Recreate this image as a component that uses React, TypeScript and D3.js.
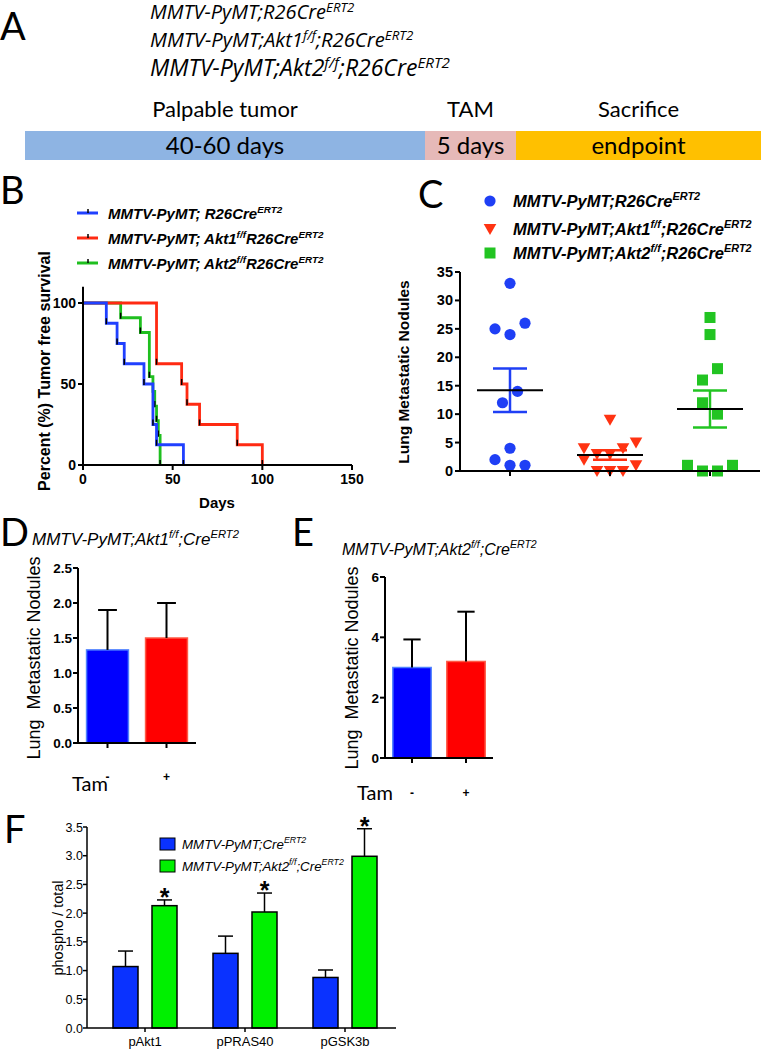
import React from 'react';
import * as d3 from 'd3';

const W = 761;
const H = 1050;
const ARIAL = "'Liberation Sans', Arial, sans-serif";
const CAL = "Lato, 'Open Sans', sans-serif";
const OPEN = "'Open Sans', Lato, sans-serif";

// ---------- Panel A ----------
const genotypeLines = [
  'MMTV-PyMT;R26Cre^{ERT2}',
  'MMTV-PyMT;Akt1^{f/f};R26Cre^{ERT2}',
  'MMTV-PyMT;Akt2^{f/f};R26Cre^{ERT2}',
];
const timelineStages = ['Palpable tumor', 'TAM', 'Sacrifice'];
const timelineDurations = ['40-60 days', '5 days', 'endpoint'];
const timelineWeights = [400, 91, 245];
const timelineColors = ['#8eb4e3', '#e6b9b8', '#ffc000'];

// ---------- Panel B ----------
const survivalLabels = [
  'MMTV-PyMT; R26Cre^{ERT2}',
  'MMTV-PyMT; Akt1^{f/f}R26Cre^{ERT2}',
  'MMTV-PyMT; Akt2^{f/f}R26Cre^{ERT2}',
];
const survivalR26: [number, number][] = [[0, 100], [13, 87.5], [19, 75], [23, 62.5], [34, 50], [39, 25], [41, 12.5], [56, 0]];
const survivalAkt1: [number, number][] = [[0, 100], [41, 62.5], [55, 50], [58, 37.5], [65, 25], [86, 12.5], [100, 0]];
const survivalAkt2: [number, number][] = [[0, 100], [21, 90.9], [32, 81.8], [37, 54.5], [39, 45.5], [40, 36.4], [41, 27.3], [42, 18.2], [43, 0]];
const survivalColors = ['#2040ff', '#ff2a12', '#1fbf1f'];
const survivalXTicks = [0, 50, 100, 150];
const survivalYTicks = [0, 50, 100];

// ---------- Panel C ----------
const noduleLabels = [
  'MMTV-PyMT;R26Cre^{ERT2}',
  'MMTV-PyMT;Akt1^{f/f};R26Cre^{ERT2}',
  'MMTV-PyMT;Akt2^{f/f};R26Cre^{ERT2}',
];
const nodulesR26 = [33, 25, 24, 26, 12, 14, 4, 2, 1, 1];
const nodulesAkt1 = [9, 4, 3, 3, 4, 5, 2, 0, 0, 0, 1];
const nodulesAkt2 = [27, 24, 16, 18, 12, 10, 1, 0, 0, 1];
const noduleColors = ['#1f3ff5', '#ff3312', '#22c422'];
const noduleShapes = ['circle', 'triangle', 'square'];
const noduleYTicks = [0, 5, 10, 15, 20, 25, 30, 35];

// ---------- Panel D / E ----------
const tamLabels = ['-', '+'];
const akt1Means = [1.33, 1.5];
const akt1Errors = [0.57, 0.5];
const akt1YTicks = [0, 0.5, 1.0, 1.5, 2.0, 2.5];
const akt2Means = [3.0, 3.2];
const akt2Errors = [0.93, 1.65];
const akt2YTicks = [0, 2, 4, 6];
const tamColors = ['#0000ff', '#ff0000'];
const tamStrokes = ['#4f82ff', '#ff5a46'];

// ---------- Panel F ----------
const phosphoTargets = ['pAkt1', 'pPRAS40', 'pGSK3b'];
const controlMeans = [1.07, 1.3, 0.88];
const controlErrors = [0.27, 0.3, 0.13];
const knockoutMeans = [2.13, 2.02, 2.99];
const knockoutErrors = [0.1, 0.33, 0.48];
const significance = ['*', '*', '*'];
const phosphoSeries = ['MMTV-PyMT;Cre^{ERT2}', 'MMTV-PyMT;Akt2^{f/f};Cre^{ERT2}'];
const phosphoColors = ['#0a32ff', '#00f000'];
const phosphoYTicks = [0, 0.5, 1.0, 1.5, 2.0, 2.5, 3.0, 3.5];

// ---------- helpers ----------
function parseRich(s: string) {
  const parts: { t: string; sup: boolean }[] = [];
  const re = /\^\{([^}]*)\}/g;
  let last = 0;
  let m: RegExpExecArray | null;
  while ((m = re.exec(s))) {
    if (m.index > last) parts.push({ t: s.slice(last, m.index), sup: false });
    parts.push({ t: m[1], sup: true });
    last = m.index + m[0].length;
  }
  if (last < s.length) parts.push({ t: s.slice(last), sup: false });
  return parts;
}

function Rich(props: any) {
  const { x, y, text, size, supScale = 0.66, raise = 0.42, anchor = 'start', weight = 'normal', italic = false, family = ARIAL, fill = '#000', transform } = props;
  const parts = parseRich(text);
  let shift = 0;
  return (
    <text x={x} y={y} fontSize={size} fontFamily={family} fontWeight={weight} fontStyle={italic ? 'italic' : 'normal'} textAnchor={anchor} fill={fill} transform={transform}>
      {parts.map((p, i) => {
        const target = p.sup ? -size * raise : 0;
        const dy = target - shift;
        shift = target;
        return (
          <tspan key={i} dy={dy} fontSize={p.sup ? size * supScale : size}>
            {p.t}
          </tspan>
        );
      })}
    </text>
  );
}

function PanelLetter({ x, y, t }: { x: number; y: number; t: string }) {
  return (
    <text x={x} y={y} fontSize={38} fontFamily={CAL} fill="#000">
      {t}
    </text>
  );
}

function fmt1(v: number) {
  return v.toFixed(1);
}

// ---------- Panel A ----------
function PanelA() {
  const cum = [0, ...Array.from(d3.cumsum(timelineWeights))];
  const x = d3.scaleLinear().domain([0, d3.sum(timelineWeights)]).range([25, W]);
  const sizes = [20, 20.2, 23];
  const baselines = [19, 47, 76];
  return (
    <g>
      <PanelLetter x={0} y={40} t="A" />
      {genotypeLines.map((g, i) => (
        <Rich key={g} x={150} y={baselines[i]} text={g} size={sizes[i]} raise={0.33} italic family={OPEN} />
      ))}
      {timelineStages.map((s, i) => {
        const x0 = x(cum[i]);
        const x1 = x(cum[i + 1]);
        const cx = (x0 + x1) / 2;
        return (
          <g key={s}>
            <rect x={x0} y={131} width={x1 - x0} height={29} fill={timelineColors[i]} />
            <text x={cx} y={117} textAnchor="middle" fontSize={22} fontFamily={CAL}>
              {s}
            </text>
            <text x={cx} y={154} textAnchor="middle" fontSize={24} fontFamily={CAL}>
              {timelineDurations[i]}
            </text>
          </g>
        );
      })}
    </g>
  );
}

// ---------- Panel B ----------
function PanelB() {
  const x = d3.scaleLinear().domain([0, 150]).range([83, 352]);
  const y = d3.scaleLinear().domain([0, 100]).range([465, 303]);
  const line = d3
    .line<[number, number]>()
    .x((d) => x(d[0]))
    .y((d) => y(d[1]))
    .curve(d3.curveStepAfter);
  const series = [survivalR26, survivalAkt1, survivalAkt2];
  const drawOrder = [2, 1, 0];
  const legendY = [213, 238, 263];
  return (
    <g>
      <PanelLetter x={0} y={204} t="B" />
      {survivalLabels.map((l, i) => (
        <g key={l}>
          <line x1={77} x2={98} y1={legendY[i]} y2={legendY[i]} stroke={survivalColors[i]} strokeWidth={3} />
          <line x1={88} x2={88} y1={legendY[i] - 4} y2={legendY[i]} stroke="#000" strokeWidth={1.5} />
          <Rich x={108} y={legendY[i] + 6} text={l} size={15} weight="bold" italic />
        </g>
      ))}
      {drawOrder.map((si) => (
        <g key={si}>
          <path d={line(series[si]) || ''} fill="none" stroke={survivalColors[si]} strokeWidth={2.8} />
          {series[si].slice(1).map((d, j) => (
            <line key={j} x1={x(d[0])} x2={x(d[0])} y1={y(d[1]) - 5} y2={y(d[1]) + 1} stroke="#000" strokeWidth={1.5} />
          ))}
        </g>
      ))}
      <line x1={x(0)} x2={x(0)} y1={y(110)} y2={y(0)} stroke="#000" strokeWidth={2} />
      <line x1={x(0) - 5} x2={x(150)} y1={y(0)} y2={y(0)} stroke="#000" strokeWidth={2} />
      {survivalYTicks.map((t) => (
        <g key={t}>
          <line x1={x(0) - 5} x2={x(0)} y1={y(t)} y2={y(t)} stroke="#000" strokeWidth={2} />
          <text x={x(0) - 7} y={y(t) + 5} textAnchor="end" fontSize={14} fontWeight="bold" fontFamily={ARIAL}>
            {t}
          </text>
        </g>
      ))}
      {survivalXTicks.map((t) => (
        <g key={t}>
          <line x1={x(t)} x2={x(t)} y1={y(0)} y2={y(0) + 5} stroke="#000" strokeWidth={2} />
          <text x={x(t)} y={484} textAnchor="middle" fontSize={14} fontWeight="bold" fontFamily={ARIAL}>
            {t}
          </text>
        </g>
      ))}
      <text x={217} y={508} textAnchor="middle" fontSize={15} fontWeight="bold" fontFamily={ARIAL}>
        Days
      </text>
      <text transform="translate(50,371) rotate(-90)" textAnchor="middle" fontSize={16} fontWeight="bold" fontFamily={ARIAL}>
        Percent (%) Tumor free survival
      </text>
    </g>
  );
}

// ---------- Panel C ----------
function Marker({ shape, cx, cy, color, s = 1 }: any) {
  if (shape === 'circle') return <circle cx={cx} cy={cy} r={5.6 * s} fill={color} />;
  if (shape === 'square') return <rect x={cx - 5.5 * s} y={cy - 5.5 * s} width={11 * s} height={11 * s} fill={color} />;
  const w = 6.3 * s;
  const h = 5 * s;
  return <path d={`M${cx - w},${cy - h}L${cx + w},${cy - h}L${cx},${cy + h + 1}Z`} fill={color} />;
}

function swarm(values: number[], spacing: number) {
  const order = values.map((v, i) => i).sort((a, b) => values[a] - values[b] || a - b);
  const rows: number[][] = [];
  let start = -Infinity;
  order.forEach((i) => {
    if (values[i] - start <= 2 && rows.length) rows[rows.length - 1].push(i);
    else {
      rows.push([i]);
      start = values[i];
    }
  });
  const offsets = new Array(values.length).fill(0);
  rows.forEach((r) => {
    const sorted = [...r].sort((a, b) => a - b);
    sorted.forEach((idx, k) => {
      offsets[idx] = (k - (sorted.length - 1) / 2) * spacing;
    });
  });
  return offsets;
}

function PanelC() {
  const groups = [nodulesR26, nodulesAkt1, nodulesAkt2];
  const x = d3.scaleBand<number>().domain([0, 1, 2]).range([460, 760]);
  const y = d3.scaleLinear().domain([0, 35]).range([471, 272]);
  const legendY = [201, 229, 253];
  const spacings = [15, 13, 15];
  return (
    <g>
      <PanelLetter x={418} y={208} t="C" />
      {noduleLabels.map((l, i) => (
        <g key={l}>
          <Marker shape={noduleShapes[i]} cx={490} cy={legendY[i]} color={noduleColors[i]} />
          <Rich x={513} y={legendY[i] + 6} text={l} size={16.5} weight="bold" italic />
        </g>
      ))}
      {groups.map((vals, gi) => {
        const cx = (x(gi) as number) + x.bandwidth() / 2;
        const offs = swarm(vals, spacings[gi]);
        const mean = d3.mean(vals) as number;
        const sem = (d3.deviation(vals) as number) / Math.sqrt(vals.length);
        return (
          <g key={gi}>
            {vals.map((v, k) => (
              <Marker key={k} shape={noduleShapes[gi]} cx={cx + offs[k]} cy={y(v)} color={noduleColors[gi]} />
            ))}
            <line x1={cx} x2={cx} y1={y(mean + sem)} y2={y(mean - sem)} stroke={noduleColors[gi]} strokeWidth={2.5} />
            <line x1={cx - 17} x2={cx + 17} y1={y(mean + sem)} y2={y(mean + sem)} stroke={noduleColors[gi]} strokeWidth={2.5} />
            <line x1={cx - 17} x2={cx + 17} y1={y(mean - sem)} y2={y(mean - sem)} stroke={noduleColors[gi]} strokeWidth={2.5} />
            <line x1={cx - 33} x2={cx + 33} y1={y(mean)} y2={y(mean)} stroke="#000" strokeWidth={2} />
            <line x1={cx} x2={cx} y1={y(0)} y2={y(0) + 5} stroke="#000" strokeWidth={2} />
          </g>
        );
      })}
      <line x1={460} x2={460} y1={y(35)} y2={y(0)} stroke="#000" strokeWidth={2} />
      <line x1={455} x2={760} y1={y(0)} y2={y(0)} stroke="#000" strokeWidth={2} />
      {noduleYTicks.map((t) => (
        <g key={t}>
          <line x1={455} x2={460} y1={y(t)} y2={y(t)} stroke="#000" strokeWidth={2} />
          <text x={453} y={y(t) + 5} textAnchor="end" fontSize={14.5} fontWeight="bold" fontFamily={ARIAL}>
            {t}
          </text>
        </g>
      ))}
      <text transform="translate(409,372) rotate(-90)" textAnchor="middle" fontSize={15.5} fontWeight="bold" fontFamily={ARIAL}>
        Lung Metastatic Nodules
      </text>
    </g>
  );
}

// ---------- Panels D / E ----------
function TamBars(props: any) {
  const { means, errors, ticks, yDomain, yRange, xRange, tickFmt, tickSize, labelX, labelY, tamX, tamY, pmY } = props;
  const x = d3.scalePoint<string>().domain(tamLabels).range(xRange).padding(0.5);
  const y = d3.scaleLinear().domain(yDomain).range(yRange);
  const bw = x.step() * 0.71;
  const cap = bw * 0.45;
  const x0 = xRange[0];
  return (
    <g>
      {tamLabels.map((t, i) => {
        const cx = x(t) as number;
        return (
          <g key={t}>
            <rect x={cx - bw / 2} y={y(means[i])} width={bw} height={y(0) - y(means[i])} fill={tamColors[i]} stroke={tamStrokes[i]} strokeWidth={1.5} />
            <line x1={cx} x2={cx} y1={y(means[i])} y2={y(means[i] + errors[i])} stroke="#000" strokeWidth={2} />
            <line x1={cx - cap / 2} x2={cx + cap / 2} y1={y(means[i] + errors[i])} y2={y(means[i] + errors[i])} stroke="#000" strokeWidth={2} />
            <line x1={cx} x2={cx} y1={y(0)} y2={y(0) + 5} stroke="#000" strokeWidth={2} />
            <text x={cx} y={pmY} textAnchor="middle" fontSize={12} fontWeight="bold" fontFamily={ARIAL}>
              {t}
            </text>
          </g>
        );
      })}
      <line x1={x0} x2={x0} y1={y(yDomain[1])} y2={y(0)} stroke="#000" strokeWidth={2} />
      <line x1={x0 - 5} x2={xRange[1]} y1={y(0)} y2={y(0)} stroke="#000" strokeWidth={2} />
      {ticks.map((t: number) => (
        <g key={t}>
          <line x1={x0 - 5} x2={x0} y1={y(t)} y2={y(t)} stroke="#000" strokeWidth={2} />
          <text x={x0 - 6} y={y(t) + 5} textAnchor="end" fontSize={tickSize} fontWeight="bold" fontFamily={ARIAL}>
            {tickFmt(t)}
          </text>
        </g>
      ))}
      <text transform={`translate(${labelX},${labelY}) rotate(-90)`} textAnchor="middle" fontSize={18} fontFamily={ARIAL}>
        Lung{'\u00a0\u00a0'}Metastatic Nodules
      </text>
      <text x={tamX} y={tamY} fontSize={20} fontFamily={CAL}>
        Tam
      </text>
    </g>
  );
}

function PanelD() {
  return (
    <g>
      <PanelLetter x={0} y={546} t="D" />
      <Rich x={32} y={545} text="MMTV-PyMT;Akt1^{f/f};Cre^{ERT2}" size={17} italic />
      <TamBars means={akt1Means} errors={akt1Errors} ticks={akt1YTicks} yDomain={[0, 2.5]} yRange={[743, 568]} xRange={[78, 196]} tickFmt={fmt1} tickSize={13.5} labelX={40} labelY={658} tamX={72} tamY={791} pmY={781} />
    </g>
  );
}

function PanelE() {
  return (
    <g>
      <PanelLetter x={292} y={546} t="E" />
      <Rich x={342} y={555} text="MMTV-PyMT;Akt2^{f/f};Cre^{ERT2}" size={16} italic />
      <TamBars means={akt2Means} errors={akt2Errors} ticks={akt2YTicks} yDomain={[0, 6]} yRange={[758, 577]} xRange={[385, 493]} tickFmt={(t: number) => String(t)} tickSize={13.5} labelX={358} labelY={668} tamX={357} tamY={800} pmY={797} />
    </g>
  );
}

// ---------- Panel F ----------
function PanelF() {
  const x = d3.scaleBand<string>().domain(phosphoTargets).range([95, 395]);
  const y = d3.scaleLinear().domain([0, 3.5]).range([1028, 827]);
  const axisX = 87;
  const bw = 25;
  const off = 19.5;
  const cap = 15;
  const groups = [
    { means: controlMeans, errs: controlErrors, dx: -off },
    { means: knockoutMeans, errs: knockoutErrors, dx: off },
  ];
  return (
    <g>
      <PanelLetter x={4} y={843} t="F" />
      {phosphoTargets.map((p, i) => {
        const c = (x(p) as number) + x.bandwidth() / 2;
        return (
          <g key={p}>
            {groups.map((g, gi) => {
              const cx = c + g.dx;
              const top = y(g.means[i] + g.errs[i]);
              return (
                <g key={gi}>
                  <line x1={cx} x2={cx} y1={y(g.means[i])} y2={top} stroke="#000" strokeWidth={1.5} />
                  <line x1={cx - cap / 2} x2={cx + cap / 2} y1={top} y2={top} stroke="#000" strokeWidth={1.5} />
                  <rect x={cx - bw / 2} y={y(g.means[i])} width={bw} height={y(0) - y(g.means[i])} fill={phosphoColors[gi]} stroke="#000" strokeWidth={1.5} />
                  {gi === 1 && (
                    <text x={cx} y={top + 6} textAnchor="middle" fontSize={25} fontWeight="bold" fontFamily={ARIAL}>
                      {significance[i]}
                    </text>
                  )}
                </g>
              );
            })}
            <line x1={c} x2={c} y1={y(0)} y2={y(0) + 4} stroke="#000" strokeWidth={1.5} />
            <text x={c} y={1046} textAnchor="middle" fontSize={13} fontFamily={ARIAL}>
              {p}
            </text>
          </g>
        );
      })}
      <line x1={axisX} x2={axisX} y1={y(3.5)} y2={y(0)} stroke="#000" strokeWidth={1.5} />
      <line x1={axisX} x2={396} y1={y(0)} y2={y(0)} stroke="#000" strokeWidth={1.5} />
      {phosphoYTicks.map((t) => (
        <g key={t}>
          <line x1={axisX - 4} x2={axisX} y1={y(t)} y2={y(t)} stroke="#000" strokeWidth={1.5} />
          <text x={axisX - 4} y={y(t) + 4.5} textAnchor="end" fontSize={12.5} fontFamily={ARIAL}>
            {fmt1(t)}
          </text>
        </g>
      ))}
      <text transform="translate(63,928) rotate(-90)" textAnchor="middle" fontSize={14.5} fontFamily={ARIAL}>
        phospho / total
      </text>
      {phosphoSeries.map((s, i) => (
        <g key={s}>
          <rect x={160} y={838 + i * 22} width={15} height={12} fill={phosphoColors[i]} stroke="#000" strokeWidth={1} />
          <Rich x={182} y={849 + i * 22} text={s} size={13.3} italic />
        </g>
      ))}
    </g>
  );
}

export default function App() {
  return (
    <svg width={W} height={H} viewBox={`0 0 ${W} ${H}`} style={{ position: 'absolute', left: 0, top: 0, background: '#fff' }}>
      <rect x={0} y={0} width={W} height={H} fill="#fff" />
      <PanelA />
      <PanelB />
      <PanelC />
      <PanelD />
      <PanelE />
      <PanelF />
    </svg>
  );
}
